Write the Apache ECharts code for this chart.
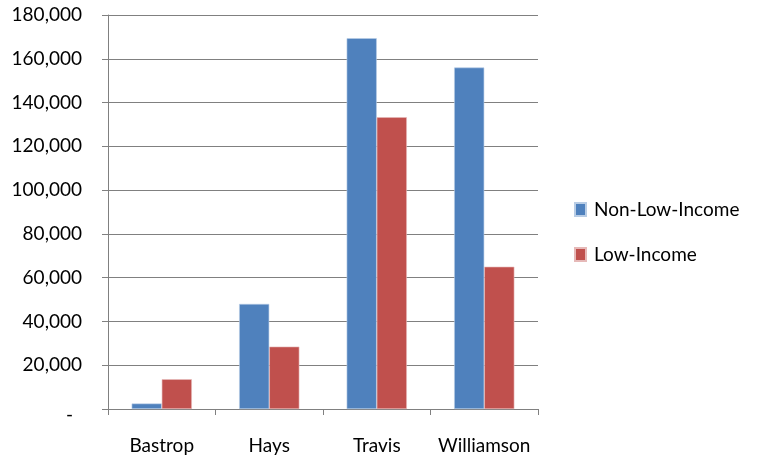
<!DOCTYPE html>
<html>
<head>
	<meta charset="utf-8">
	<title>Non-Low-Income vs Low-Income</title>
	<script src="https://cdn.jsdelivr.net/npm/echarts@6/dist/echarts.min.js"></script>
	<style type="text/css">
		html, body { margin: 0; padding: 0; background: #ffffff; }
		#chartContainer { width: 760px; height: 460px; }
	</style>
</head>
<body>
	<div id="chartContainer"></div>
	<script type="text/javascript">
		var counties = ['Bastrop', 'Hays', 'Travis', 'Williamson'];
		var nonLowIncome = [2500, 48000, 169400, 156000];
		var lowIncome = [13600, 28500, 133300, 65000];
		var seriesNames = ['Non-Low-Income', 'Low-Income'];

		var font = 'Lato';
		var myChart = echarts.init(document.getElementById('chartContainer'));
		var option = {
			animation: false,
			backgroundColor: '#ffffff',
			grid: { left: 108, right: 222, top: 15, bottom: 51 },
			legend: {
				orient: 'vertical',
				left: 574,
				top: 200,
				padding: 0,
				itemWidth: 11,
				itemHeight: 13,
				itemGap: 26,
				icon: 'rect',
				textStyle: { fontFamily: font, fontSize: 19, color: '#000', padding: [0, 0, 0, 3] },
				data: seriesNames
			},
			xAxis: {
				type: 'category',
				data: counties,
				axisLine: { lineStyle: { color: '#808080', width: 1 } },
				axisTick: { show: true, interval: 0, length: 6, lineStyle: { color: '#808080' } },
				axisLabel: { interval: 0, hideOverlap: false, margin: 27, fontFamily: font, fontSize: 19, color: '#000' }
			},
			yAxis: {
				type: 'value',
				min: 0,
				max: 180000,
				interval: 20000,
				axisLine: { show: true, lineStyle: { color: '#808080', width: 1 } },
				axisTick: { show: true, length: 6, lineStyle: { color: '#808080' } },
				splitLine: { lineStyle: { color: '#808080', width: 1 } },
				axisLabel: {
					margin: 26,
					fontFamily: font,
					fontSize: 19,
					color: '#000',
					formatter: function (v) {
						if (v === 0) return '{dash|-}';
						return v.toString().replace(/\B(?=(\d{3})+(?!\d))/g, ',');
					},
					rich: { dash: { fontFamily: font, fontSize: 19, color: '#000', padding: [12, 9, 0, 0] } }
				}
			},
			series: [
				{
					name: seriesNames[0],
					type: 'bar',
					data: nonLowIncome,
					barGap: '0%',
					barCategoryGap: '44%',
					itemStyle: { color: '#4F81BD', borderColor: '#b9cde5', borderWidth: 0.6 }
				},
				{
					name: seriesNames[1],
					type: 'bar',
					data: lowIncome,
					itemStyle: { color: '#C0504D', borderColor: '#e6b9b8', borderWidth: 0.6 }
				}
			]
		};
		myChart.setOption(option);
	</script>
</body>
</html>
